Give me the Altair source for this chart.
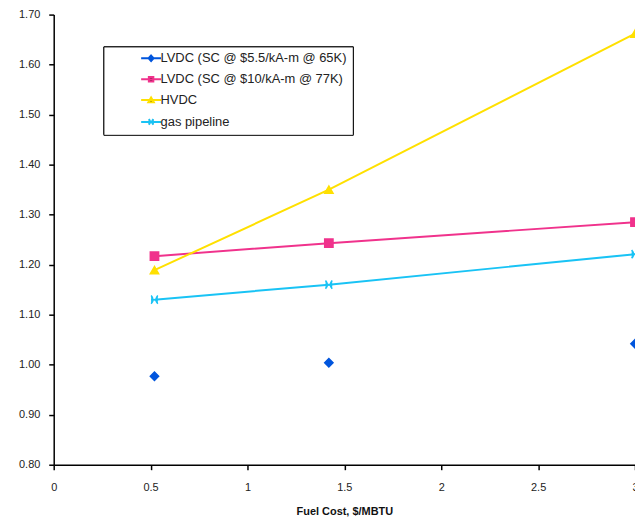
import altair as alt
import pandas as pd

series = [
    "LVDC (SC @ $5.5/kA-m @ 65K)",
    "LVDC (SC @ $10/kA-m @ 77K)",
    "HVDC",
    "gas pipeline",
]
fuel_cost = [0.52, 1.42, 3.0]
lvdc_55 = [0.977, 1.004, 1.042]
lvdc_10 = [1.217, 1.243, 1.285]
hvdc = [1.189, 1.350, 1.662]
gas = [1.130, 1.160, 1.221]

colors = ["#0055DD", "#F0328C", "#FFE000", "#19C3F5"]
chart_shapes = ["diamond", "square", "triangle-up", "M-0.8,-1Q0.1,0 -0.8,1M0.8,-1Q-0.1,0 0.8,1M-0.8,0H0.8"]
legend_shapes = [
    "M-2,0H2M0,-0.55L0.5,0L0,0.55L-0.5,0Z",
    "M-2,0H2M-0.45,-0.45H0.45V0.45H-0.45Z",
    "M-2,0H2M0,-0.5L0.55,0.45H-0.55Z",
    "M-2,0H2M-0.45,-0.55Q0.05,0 -0.45,0.55M0.45,-0.55Q-0.05,0 0.45,0.55",
]

rows = []
for name, vals, shp, has_line in zip(series, [lvdc_55, lvdc_10, hvdc, gas], chart_shapes, [False, True, True, True]):
    for x, y in zip(fuel_cost, vals):
        rows.append({"series": name, "x": x, "y": y, "shp": shp, "line": has_line})
df = pd.DataFrame(rows)

font = "Liberation Sans"
xs = alt.X("x:Q", title="Fuel Cost, $/MBTU",
           scale=alt.Scale(domain=[0, 3], nice=False, zero=False),
           axis=alt.Axis(values=[0, 0.5, 1, 1.5, 2, 2.5, 3], format="~g", grid=False,
                         titleFontWeight="bold", titleFontSize=11, titlePadding=13,
                         labelPadding=12, labelFlush=False))
ys = alt.Y("y:Q", title=None,
           scale=alt.Scale(domain=[0.8, 1.7], nice=False, zero=False),
           axis=alt.Axis(values=[0.8, 0.9, 1.0, 1.1, 1.2, 1.3, 1.4, 1.5, 1.6, 1.7], format=".2f",
                         grid=False, labelPadding=9))
col = alt.Color("series:N", scale=alt.Scale(domain=series, range=colors), legend=None)

lines = alt.Chart(df).transform_filter("datum.line").mark_line(strokeWidth=2).encode(
    x=xs, y=ys, color=col)

points = alt.Chart(df).mark_point(filled=True, size=70, strokeWidth=1.5, opacity=1).encode(
    x=xs, y=ys,
    color=col,
    stroke=alt.Stroke("series:N", scale=alt.Scale(domain=series, range=colors), legend=None),
    shape=alt.Shape("shp:N", scale=None),
)

leg = alt.Legend(title=None, orient="none", legendX=50, legendY=32,
                 strokeColor="black", fillColor="white", padding=5.5,
                 symbolOffset=36, symbolStrokeWidth=2,
                 labelOffset=3, rowPadding=7,
                 labelFont=font, labelFontSize=13,
                 labelColor="#222", labelLimit=400)

legend_layer = alt.Chart(df).transform_filter("false").mark_point(
    filled=True, size=256, strokeWidth=2, opacity=1).encode(
    x=xs, y=ys,
    fill=alt.Fill("series:N", scale=alt.Scale(domain=series, range=colors), legend=leg),
    stroke=alt.Stroke("series:N", scale=alt.Scale(domain=series, range=colors), legend=leg),
    shape=alt.Shape("series:N", scale=alt.Scale(domain=series, range=legend_shapes), legend=leg),
)

chart = alt.layer(lines, points, legend_layer).resolve_scale(
    color="independent", shape="independent", stroke="independent"
).properties(
    width=585, height=453,
    autosize=alt.AutoSizeParams(type="none"),
    padding={"left": 46, "top": 5, "right": 0, "bottom": 57},
).configure_view(stroke=None).configure_axis(
    domainColor="black", domainWidth=1.5, tickColor="black", tickWidth=1.5, tickSize=5,
    labelFont=font, labelFontSize=11, labelColor="#222", titleFont=font, titleColor="#111",
)

chart.save("out.html", embed_options={"renderer": "svg", "actions": False})
